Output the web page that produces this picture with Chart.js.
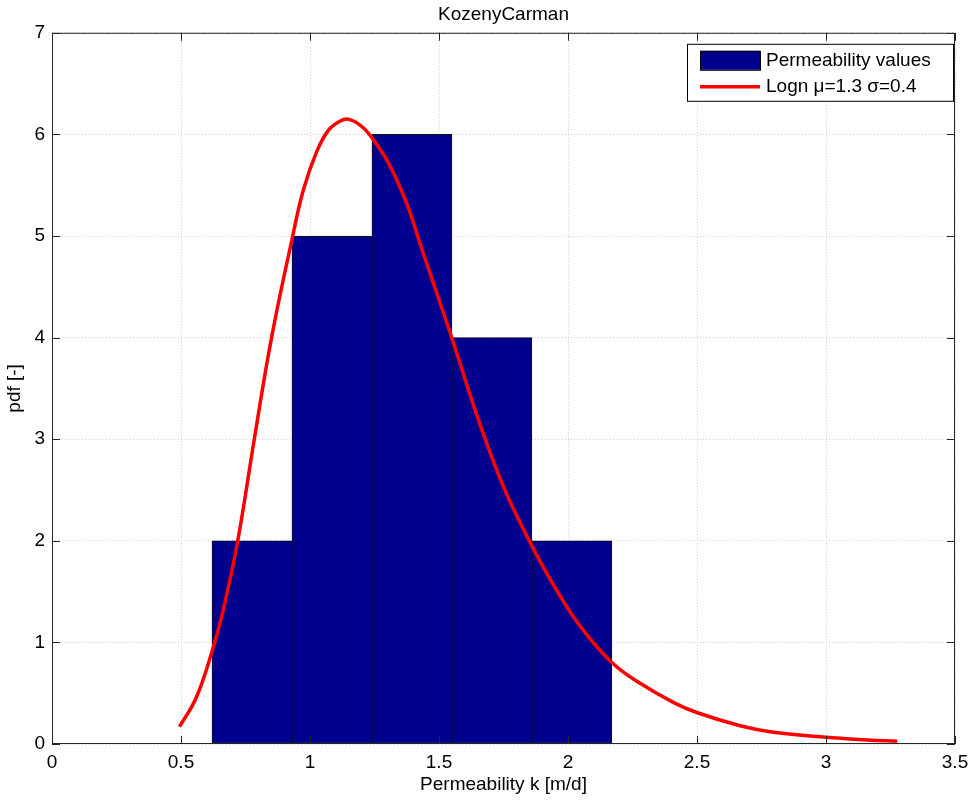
<!DOCTYPE html>
<html>
<head>
<meta charset="utf-8">
<title>KozenyCarman</title>
<script src="https://cdn.jsdelivr.net/npm/chart.js@4.4.0/dist/chart.umd.min.js"></script>
<style>
  html, body { margin: 0; padding: 0; background: #fff; }
  #wrap { width: 970px; height: 800px; }
</style>
</head>
<body>
<div id="wrap"><canvas id="hist-chart" width="970" height="800"></canvas></div>
<script>
// histogram bins (centres) and counts
var binCenters = [0.775, 1.085, 1.395, 1.705, 2.015];
var binCounts = [2, 5, 6, 4, 2];

// fitted lognormal curve
var curveX = [0.494, 0.558, 0.619, 0.662, 0.720, 0.784, 0.851, 0.933, 0.974, 1.026,
              1.071, 1.116, 1.148, 1.200, 1.239, 1.304, 1.375, 1.426, 1.491, 1.552,
              1.633, 1.698, 1.762, 1.860, 1.943, 2.047, 2.171, 2.278, 2.408, 2.499,
              2.667, 2.797, 3.000, 3.159, 3.276];
var curveY = [0.17, 0.45, 0.90, 1.30, 2.00, 3.00, 4.00, 5.00, 5.45, 5.83,
              6.04, 6.13, 6.15, 6.08, 5.97, 5.72, 5.32, 4.93, 4.44, 3.98,
              3.34, 2.87, 2.46, 1.95, 1.57, 1.16, 0.80, 0.60, 0.41, 0.31,
              0.18, 0.115, 0.066, 0.04, 0.026];

var chartTitle = 'KozenyCarman';
var xLabel = 'Permeability k [m/d]';
var yLabel = 'pdf [-]';
var histLabel = 'Permeability values';
var curveLabel = 'Logn \u03bc=1.3 \u03c3=0.4';

var fontFamily = '"Liberation Sans", Arial, sans-serif';
var fontSize = 19;
var barColor = '#00008f';
var lineColor = '#ff0000';

// axes box, inward ticks and the legend (matlab style)
var matlabFrame = {
  id: 'matlabFrame',
  afterDraw: function (chart) {
    var ctx = chart.ctx;
    var a = chart.chartArea;
    var xs = chart.scales.x;
    var ys = chart.scales.y;
    ctx.save();
    ctx.strokeStyle = '#262626';
    ctx.lineWidth = 1;
    ctx.strokeRect(a.left + 0.5, a.top + 0.5, a.right - a.left - 1, a.bottom - a.top - 1);

    var tl = 8;
    ctx.beginPath();
    xs.ticks.forEach(function (t) {
      var px = Math.round(xs.getPixelForValue(t.value)) + 0.5;
      ctx.moveTo(px, a.bottom); ctx.lineTo(px, a.bottom - tl);
      ctx.moveTo(px, a.top); ctx.lineTo(px, a.top + tl);
    });
    ys.ticks.forEach(function (t) {
      var py = Math.round(ys.getPixelForValue(t.value)) + 0.5;
      ctx.moveTo(a.left, py); ctx.lineTo(a.left + tl, py);
      ctx.moveTo(a.right, py); ctx.lineTo(a.right - tl, py);
    });
    ctx.stroke();

    // legend box
    var bw = 266, bh = 57;
    var bx = a.right - 2 - bw, by = a.top + 11;
    ctx.fillStyle = '#fff';
    ctx.fillRect(bx, by, bw, bh);
    ctx.strokeStyle = '#000';
    ctx.strokeRect(bx + 0.5, by + 0.5, bw, bh);

    ctx.fillStyle = barColor;
    ctx.fillRect(bx + 13, by + 7, 60, 19);
    ctx.strokeStyle = '#000';
    ctx.strokeRect(bx + 13.5, by + 7.5, 60, 19);

    ctx.strokeStyle = lineColor;
    ctx.lineWidth = 3.5;
    ctx.beginPath();
    ctx.moveTo(bx + 13, by + 43);
    ctx.lineTo(bx + 73, by + 43);
    ctx.stroke();

    ctx.fillStyle = '#000';
    ctx.font = fontSize + 'px ' + fontFamily;
    ctx.textBaseline = 'middle';
    ctx.textAlign = 'left';
    ctx.fillText(histLabel, bx + 79, by + 17);
    ctx.fillText(curveLabel, bx + 79, by + 43);
    ctx.restore();
  }
};

function plainTick(value) {
  return String(Math.round(value * 10) / 10);
}

function createHistChart() {
  var ctx = document.getElementById('hist-chart').getContext('2d');

  var barPoints = binCenters.map(function (c, i) { return { x: c, y: binCounts[i] }; });
  var curvePoints = curveX.map(function (x, i) { return { x: x, y: curveY[i] }; });

  new Chart(ctx, {
    data: {
      datasets: [{
        type: 'line',
        label: curveLabel,
        data: curvePoints,
        borderColor: lineColor,
        borderWidth: 3.5,
        pointRadius: 0,
        fill: false,
        tension: 0.4,
        order: 0
      }, {
        type: 'bar',
        label: histLabel,
        data: barPoints,
        backgroundColor: barColor,
        borderColor: '#111',
        borderWidth: 1,
        borderSkipped: false,
        barPercentage: 1,
        categoryPercentage: 1,
        order: 1
      }]
    },
    options: {
      responsive: false,
      animation: false,
      layout: { padding: { left: 0, right: 15, top: 0, bottom: 0 } },
      scales: {
        x: {
          type: 'linear',
          min: 0,
          max: 3.5,
          offset: false,
          afterFit: function (s) { s.height = 56; s.paddingLeft = 0; s.paddingRight = 0; },
          ticks: { stepSize: 0.5, padding: 7, color: '#000', font: { family: fontFamily, size: fontSize }, maxRotation: 0, callback: plainTick },
          grid: { color: '#cfcfcf', drawTicks: false, offset: false },
          border: { display: false, dash: [1, 2] },
          title: { display: true, text: xLabel, color: '#000', font: { family: fontFamily, size: fontSize }, padding: { top: 0, bottom: 4 } }
        },
        y: {
          min: 0,
          max: 7,
          afterFit: function (s) { s.width = 52; },
          ticks: { stepSize: 1, padding: 7, color: '#000', font: { family: fontFamily, size: fontSize }, callback: plainTick },
          grid: { color: '#cfcfcf', drawTicks: false },
          border: { display: false, dash: [1, 2] },
          title: { display: true, text: yLabel, color: '#000', font: { family: fontFamily, size: fontSize }, padding: { top: 3, bottom: 0 } }
        }
      },
      plugins: {
        legend: { display: false },
        tooltip: { enabled: false },
        title: {
          display: true,
          fullSize: false,
          text: chartTitle,
          color: '#000',
          font: { family: fontFamily, size: fontSize, weight: 'normal' },
          padding: { top: 3, bottom: 7 }
        }
      }
    },
    plugins: [matlabFrame]
  });
}

document.addEventListener('DOMContentLoaded', function () {
  createHistChart();
});
</script>
</body>
</html>
